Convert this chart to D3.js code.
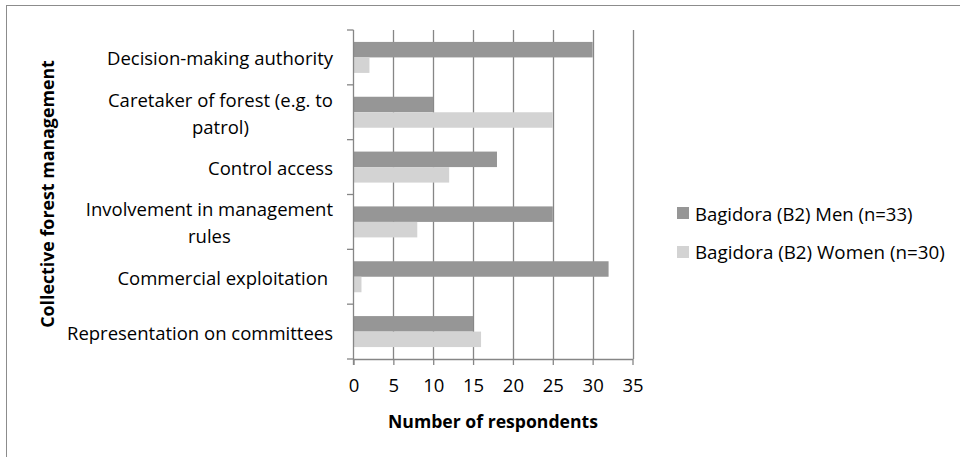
<!DOCTYPE html>
<html><head><meta charset="utf-8">
<script src="https://cdn.jsdelivr.net/npm/d3@7"></script>
<style>body{margin:0;background:#fff}</style>
</head><body>
<svg id="c" width="960" height="457"></svg>
<script>
const categories = ["Decision-making authority","Caretaker of forest (e.g. to patrol)","Control access","Involvement in management rules","Commercial exploitation ","Representation on committees"];
const labelLines = [["Decision-making authority"],["Caretaker of forest (e.g. to","patrol)"],["Control access"],["Involvement in management","rules"],["Commercial exploitation "],["Representation on committees"]];
const seriesNames = ["Bagidora (B2) Men (n=33)","Bagidora (B2) Women (n=30)"];
const men = [30,10,18,25,32,15];
const women = [2,25,12,8,1,16];
const xTicks = [0,5,10,15,20,25,30,35];
const colors = ["#969696","#d3d3d3"];

const svg = d3.select("#c");
const font = "Open Sans";
const fs = 18.5;
svg.append("rect").attr("x",6.5).attr("y",5.5).attr("width",1000).attr("height",1000).attr("fill","none").attr("stroke","#8c8c8c");

const x = d3.scaleLinear().domain([0,35]).range([353.5,632.5]);
const y = d3.scaleBand().domain(categories).range([30,359]).padding(0);
const barH = 15.5;
const axisCol = "#868686";

const g = svg.append("g");
g.selectAll("line.grid").data(xTicks.slice(1)).join("line")
 .attr("x1",d=>Math.round(x(d))+0.5).attr("x2",d=>Math.round(x(d))+0.5)
 .attr("y1",30).attr("y2",359).attr("stroke",axisCol).attr("stroke-width",1.3);

[men,women].forEach((vals,si)=>{
  g.selectAll("rect.s"+si).data(vals).join("rect")
   .attr("x",x(0)).attr("y",(d,i)=>y(categories[i])+(y.bandwidth()-2*barH)/2+si*barH)
   .attr("width",d=>x(d)-x(0)).attr("height",barH).attr("fill",colors[si]);
});

const xAxis = d3.axisBottom(x).tickValues(xTicks).tickSize(6).tickPadding(14).tickSizeOuter(0);
const gx = svg.append("g").attr("transform","translate(0,359)").call(xAxis);
gx.select(".domain").attr("stroke",axisCol).attr("stroke-width",1.3);
gx.selectAll(".tick line").attr("stroke",axisCol).attr("stroke-width",1.3);
gx.selectAll("text").attr("font-family",font).attr("font-size",fs).attr("fill","#000");

const yEdges = d3.range(categories.length+1).map(i=>30+i*y.step());
svg.append("line").attr("x1",353.5).attr("x2",353.5).attr("y1",30).attr("y2",365).attr("stroke",axisCol).attr("stroke-width",1.3);
svg.selectAll("line.yt").data(yEdges).join("line").attr("x1",347).attr("x2",353.5)
 .attr("y1",d=>d).attr("y2",d=>d).attr("stroke",axisCol).attr("stroke-width",1.3);

const lh = 27;
labelLines.forEach((lines,i)=>{
  const cy = y(categories[i]) + y.bandwidth()/2;
  const t = svg.append("text").attr("font-family",font).attr("font-size",fs).attr("fill","#000")
    .attr("text-anchor","middle").attr("dominant-baseline","central").attr("xml:space","preserve");
  lines.forEach((l,j)=>{
    t.append("tspan").text(l).attr("y",cy+(j-(lines.length-1)/2)*lh);
  });
  const w = d3.max(t.selectAll("tspan").nodes(),n=>n.getComputedTextLength());
  t.selectAll("tspan").attr("x",333-w/2);
});

function fitText(sel, target){
  const w = sel.node().getComputedTextLength();
  sel.attr("font-size", fs*target/w);
}
const xt = svg.append("text").attr("x",493).attr("y",421).attr("text-anchor","middle").attr("dominant-baseline","central")
 .attr("font-family",font).attr("font-weight","bold").attr("font-size",fs).text("Number of respondents");
fitText(xt,210);
const yt = svg.append("text").attr("transform","translate(47,194) rotate(-90)").attr("text-anchor","middle").attr("dominant-baseline","central")
 .attr("font-family",font).attr("font-weight","bold").attr("font-size",fs).text("Collective forest management");
fitText(yt,268);

seriesNames.forEach((n,i)=>{
  const ly = 213 + i*39;
  svg.append("rect").attr("x",677).attr("y",ly-6).attr("width",12).attr("height",12).attr("fill",colors[i]);
  const lt = svg.append("text").attr("x",695).attr("y",ly).attr("dominant-baseline","central")
   .attr("font-family",font).attr("font-size",fs).text(n);
  if(i===1) fitText(lt,250);
});
</script>
</body></html>
